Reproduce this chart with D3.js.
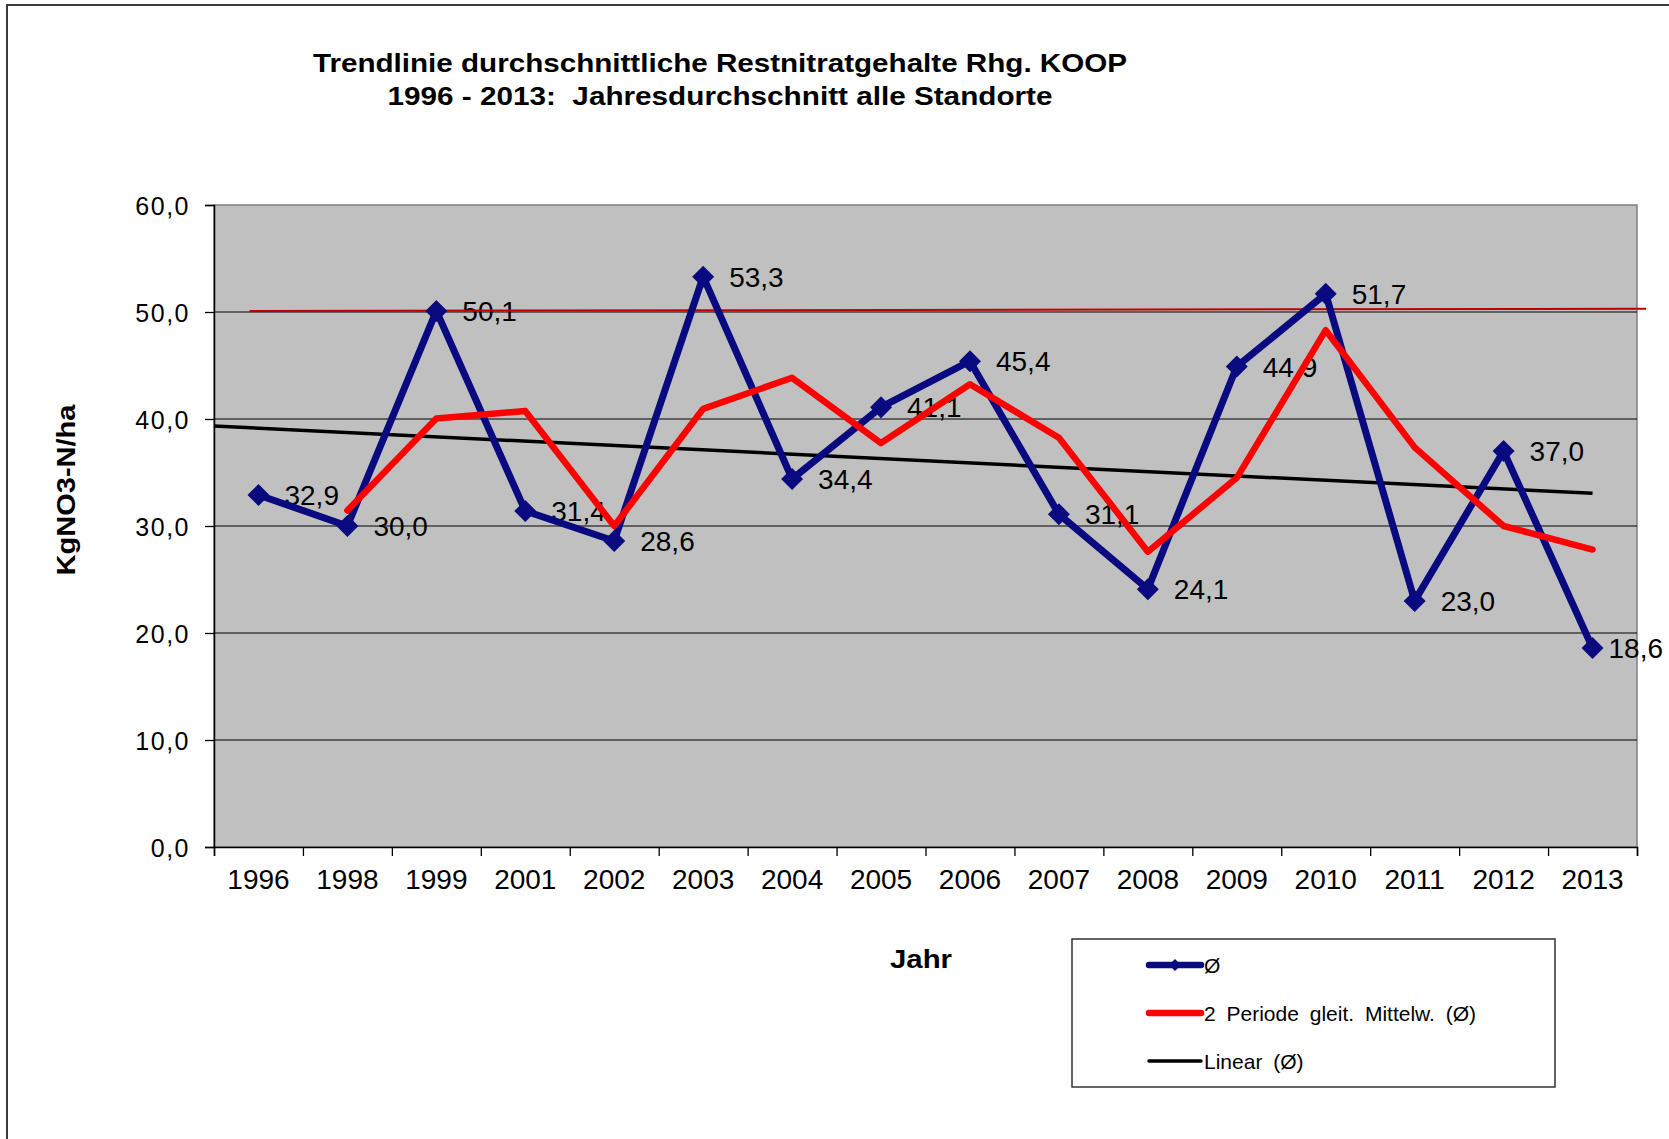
<!DOCTYPE html>
<html>
<head>
<meta charset="utf-8">
<script src="https://cdn.jsdelivr.net/npm/d3@7"></script>
<style>
  body { margin: 0; background: #fff; }
  svg text { font-family: "Liberation Sans", Arial, sans-serif; }
</style>
</head>
<body>
<div id="chart"></div>
<script>
// values
const years = ["1996", "1998", "1999", "2001", "2002", "2003", "2004", "2005",
               "2006", "2007", "2008", "2009", "2010", "2011", "2012", "2013"]
const avgValues = [32.9, 30.0, 50.1, 31.4, 28.6, 53.3, 34.4, 41.1,
                   45.4, 31.1, 24.1, 44.9, 51.7, 23.0, 37.0, 18.6]
// 2 Periode gleitender Mittelwert (first year has no value)
const movingAvg = [null, 31.45, 40.05, 40.75, 30.0, 40.95, 43.85, 37.75,
                   43.25, 38.25, 27.6, 34.5, 48.3, 37.35, 30.0, 27.8]
// linear trend: value at the left plot edge and at the last year
const trendValues = [39.35, 33.05]
// thin red 50 limit line, left and right end
const limitValues = [50.1, 50.3]
const yTicks = [0, 10, 20, 30, 40, 50, 60]
const legendLabels = ["\u00D8", "2 Periode gleit. Mittelw. (\u00D8)", "Linear (\u00D8)"]

const W = 1669, H = 1139
const plotLeft = 214, plotRight = 1637, plotTop = 205, plotBottom = 847

const fmt = v => v.toFixed(1).replace(".", ",")

const svg = d3.select("#chart").append("svg")
    .attr("width", W)
    .attr("height", H)

// outer frame (right/bottom run off the picture)
svg.append("rect")
    .attr("x", 7).attr("y", 5)
    .attr("width", W + 20).attr("height", H + 20)
    .attr("fill", "#fff")
    .attr("stroke", "#3a3a3a")
    .attr("stroke-width", 2)

// title
const title = svg.append("g")
    .attr("font-weight", "bold")
    .attr("font-size", 26)
    .attr("text-anchor", "middle")
title.append("text")
    .attr("x", 720).attr("y", 72)
    .attr("textLength", 814).attr("lengthAdjust", "spacingAndGlyphs")
    .text("Trendlinie durchschnittliche Restnitratgehalte Rhg. KOOP")
title.append("text")
    .attr("x", 720).attr("y", 105)
    .attr("textLength", 665).attr("lengthAdjust", "spacingAndGlyphs")
    .style("white-space", "pre")
    .text("1996 - 2013:  Jahresdurchschnitt alle Standorte")

const x = d3.scaleBand().domain(years).range([plotLeft, plotRight])
const xEdge = d3.scaleLinear().domain([0, years.length]).range([plotLeft, plotRight])
const y = d3.scaleLinear().domain([0, 60]).range([plotBottom, plotTop])
const cx = (d, i) => x(years[i]) + x.bandwidth() / 2

// plot area
svg.append("rect")
    .attr("x", plotLeft).attr("y", plotTop)
    .attr("width", plotRight - plotLeft).attr("height", plotBottom - plotTop)
    .attr("fill", "#c0c0c0")
    .attr("stroke", "#808080")
    .attr("stroke-width", 1.5)

// gridlines
svg.append("g")
  .selectAll("line")
  .data(yTicks.filter(t => t > 0 && t < 60))
  .join("line")
    .attr("x1", plotLeft).attr("x2", plotRight)
    .attr("y1", d => y(d)).attr("y2", d => y(d))
    .attr("stroke", "#000")
    .attr("stroke-width", 1.2)

// y axis
const yAxis = svg.append("g")
    .attr("transform", `translate(${plotLeft},0)`)
    .call(d3.axisLeft(y).tickValues(yTicks).tickSize(9).tickPadding(15).tickFormat(fmt))
yAxis.select(".domain").attr("stroke", "#000").attr("stroke-width", 1.5)
yAxis.selectAll(".tick line").attr("stroke", "#000").attr("stroke-width", 1.3)
yAxis.selectAll("text")
    .attr("font-size", 25)
    .attr("letter-spacing", 1.5)
    .attr("dy", "0.37em")
    .attr("fill", "#000")
    .attr("font-family", "Liberation Sans, Arial, sans-serif")

// x axis: ticks on the category edges
const xTicks = svg.append("g")
    .attr("transform", `translate(0,${plotBottom})`)
    .call(d3.axisBottom(xEdge).tickValues(d3.range(years.length + 1)).tickSize(9).tickFormat(""))
xTicks.select(".domain").attr("stroke", "#000").attr("stroke-width", 1.5)
xTicks.selectAll(".tick line").attr("stroke", "#000").attr("stroke-width", 1.3)

// x labels in the middle of each category
const xLabels = svg.append("g")
    .attr("transform", `translate(0,${plotBottom})`)
    .call(d3.axisBottom(x).tickSize(0))
xLabels.select(".domain").remove()
xLabels.selectAll("text")
    .attr("dy", null)
    .attr("y", 42)
    .attr("font-size", 28)
    .attr("fill", "#000")
    .attr("font-family", "Liberation Sans, Arial, sans-serif")

// axis titles
svg.append("text")
    .attr("transform", "translate(75,490) rotate(-90)")
    .attr("text-anchor", "middle")
    .attr("font-weight", "bold")
    .attr("font-size", 26)
    .attr("textLength", 171).attr("lengthAdjust", "spacingAndGlyphs")
    .text("KgNO3-N/ha")

svg.append("text")
    .attr("x", 921).attr("y", 968)
    .attr("text-anchor", "middle")
    .attr("font-weight", "bold")
    .attr("font-size", 26)
    .attr("textLength", 62).attr("lengthAdjust", "spacingAndGlyphs")
    .text("Jahr")

// data labels (under the lines)
const labels = svg.append("g")
    .attr("font-size", 28)
  .selectAll("text")
  .data(avgValues)
  .join("text")
    .attr("x", (d, i) => cx(d, i) + 26)
    .attr("y", d => y(d))
    .attr("dy", "0.36em")
    .text(fmt)
labels.each(function() {
  const w = this.getComputedTextLength()
  const lx = +this.getAttribute("x")
  if (lx + w > W - 6) this.setAttribute("x", W - 6 - w)
})

// red 50 limit line
svg.append("line")
    .attr("x1", x(years[0]) + x.bandwidth() / 2 - 9)
    .attr("x2", plotRight + 9)
    .attr("y1", y(limitValues[0]))
    .attr("y2", y(limitValues[1]))
    .attr("stroke", "#c00000")
    .attr("stroke-width", 2)

// linear trend
svg.append("line")
    .attr("x1", plotLeft)
    .attr("x2", cx(null, years.length - 1))
    .attr("y1", y(trendValues[0]))
    .attr("y2", y(trendValues[1]))
    .attr("stroke", "#000")
    .attr("stroke-width", 3.5)

// main series
const line = d3.line().x((d, i) => cx(d, i)).y(d => y(d))
svg.append("path")
    .datum(avgValues)
    .attr("d", line)
    .attr("fill", "none")
    .attr("stroke", "#0a0a80")
    .attr("stroke-width", 7)
    .attr("stroke-linejoin", "round")

// moving average
const maLine = d3.line()
    .defined(d => d != null)
    .x((d, i) => cx(d, i))
    .y(d => y(d))
svg.append("path")
    .datum(movingAvg)
    .attr("d", maLine)
    .attr("fill", "none")
    .attr("stroke", "#ff0000")
    .attr("stroke-width", 6.5)
    .attr("stroke-linejoin", "round")
    .attr("stroke-linecap", "round")

// diamond markers
const diamond = s => `M0,${-s}L${s},0L0,${s}L${-s},0Z`
svg.append("g")
  .selectAll("path")
  .data(avgValues)
  .join("path")
    .attr("transform", (d, i) => `translate(${cx(d, i)},${y(d)})`)
    .attr("d", diamond(11))
    .attr("fill", "#0a0a80")

// legend
const legend = svg.append("g")
legend.append("rect")
    .attr("x", 1072).attr("y", 939)
    .attr("width", 483).attr("height", 148)
    .attr("fill", "#fff")
    .attr("stroke", "#333")
    .attr("stroke-width", 1.5)

const legendStyles = [
  { color: "#0a0a80", width: 6.5, marker: true },
  { color: "#ff0000", width: 6.5, marker: false },
  { color: "#000", width: 3.5, marker: false }
]
const item = legend.selectAll("g.item")
  .data(legendLabels)
  .join("g")
    .attr("class", "item")
    .attr("transform", (d, i) => `translate(0,${965 + i * 48})`)
item.append("line")
    .attr("x1", 1149).attr("x2", 1201)
    .attr("stroke", (d, i) => legendStyles[i].color)
    .attr("stroke-width", (d, i) => legendStyles[i].width)
    .attr("stroke-linecap", "round")
item.filter((d, i) => legendStyles[i].marker)
  .append("path")
    .attr("transform", "translate(1175,0)")
    .attr("d", diamond(6))
    .attr("fill", "#0a0a80")
item.append("text")
    .attr("x", 1204)
    .attr("dy", "0.36em")
    .attr("font-size", 21)
    .attr("word-spacing", 5)
    .text(d => d)
</script>
</body>
</html>
